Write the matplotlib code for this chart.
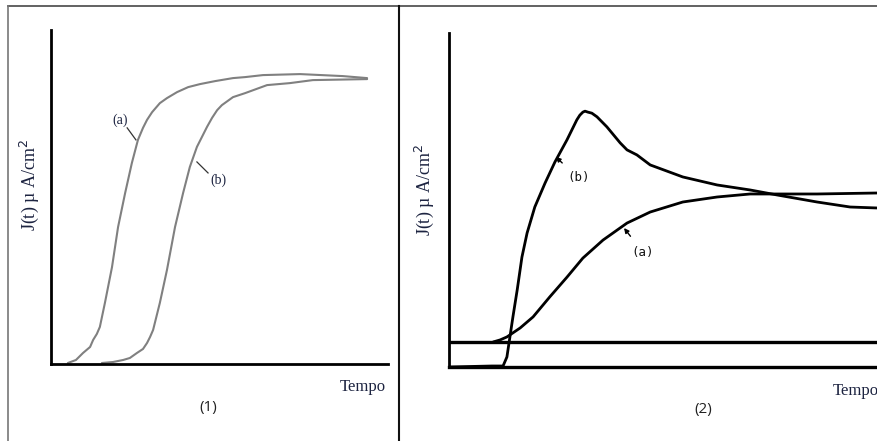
import matplotlib
matplotlib.use('Agg')
import matplotlib.pyplot as plt
from matplotlib.lines import Line2D

W, H = 878, 441

# painel (1): curvas sigmoides, tempo e J em unidades arbitrarias (0-100)
t1_a = [5.0, 7.4, 9.5, 11.6, 12.5, 13.6, 14.5, 16.0, 18.1, 19.9, 22.0, 24.0,
        25.8, 27.3, 28.5, 30.0, 32.3, 34.4, 37.4, 40.7, 44.2, 48.7, 54.0, 57.6,
        62.9, 73.9, 86.6, 93.8]
j1_a = [0.3, 1.2, 3.3, 5.1, 7.2, 9.0, 11.1, 18.3, 29.0, 41.0, 51.2, 60.2,
        67.1, 70.7, 73.1, 75.4, 78.1, 79.6, 81.4, 82.9, 83.8, 84.7, 85.6, 85.9,
        86.5, 86.8, 86.2, 85.6]
t1_b = [15.1, 18.4, 21.4, 23.4, 25.5, 27.3, 28.5, 29.4, 30.3, 32.3, 34.4, 36.8,
        39.2, 41.2, 43.3, 44.8, 46.3, 47.8, 49.3, 50.7, 54.0, 57.6, 64.1, 70.9,
        77.7, 93.8]
j1_b = [0.3, 0.6, 1.2, 1.8, 3.3, 4.5, 6.3, 8.1, 10.2, 18.3, 28.1, 41.0,
        51.2, 59.0, 65.0, 68.0, 71.0, 73.7, 76.0, 77.5, 79.9, 81.1, 83.5, 84.1,
        85.0, 85.3]

# painel (2)
t2_b = [0.0, 10.0, 12.6, 13.5, 14.2, 14.9, 15.9, 17.0, 18.2, 20.0, 22.4, 24.7,
        27.5, 29.8, 30.5, 31.2, 31.7, 32.4, 33.3, 34.5, 36.8, 39.9, 41.5, 43.8,
        46.9, 54.5, 62.5, 70.2, 76.5, 85.8, 93.5, 100.0]
j2_b = [0.0, 0.3, 0.3, 3.0, 9.0, 15.0, 23.1, 32.9, 40.1, 47.9, 55.1, 61.4,
        68.0, 74.0, 75.4, 76.3, 76.6, 76.3, 76.0, 74.9, 71.9, 67.1, 65.0, 63.5,
        60.5, 56.9, 54.5, 53.0, 51.5, 49.4, 47.9, 47.6]
baseline_a = 7.5
t2_a = [10.3, 11.9, 13.5, 16.6, 19.6, 23.5, 27.5, 31.2, 35.9, 41.5, 46.9, 54.5,
        62.5, 70.2, 77.9, 85.8, 100.0]
j2_a = [7.5, 8.1, 9.0, 11.7, 15.0, 21.0, 26.9, 32.6, 38.0, 43.1, 46.4, 49.4,
        50.9, 51.8, 51.8, 51.8, 52.1]

ylabel = 'J(t) µ A/cm$^2$'
navy = '#1c2340'


def px(x, y):
    return x / W, 1 - y / H


fig = plt.figure(figsize=(W / 100, H / 100), dpi=100)
fig.patch.set_facecolor('white')

# moldura
fig.add_artist(Line2D([8 / W, 1], [1 - 6 / H, 1 - 6 / H], color='#555555', lw=1.3))
fig.add_artist(Line2D([8 / W, 8 / W], [0, 1 - 6 / H], color='#777777', lw=1.2))
fig.add_artist(Line2D([399.5 / W, 399.5 / W], [0, 1 - 6 / H], color='#111111', lw=1.5))


def setup(ax):
    for s in ['top', 'right']:
        ax.spines[s].set_visible(False)
    for s in ['left', 'bottom']:
        ax.spines[s].set_linewidth(2.0)
        ax.spines[s].set_color('black')
    ax.set_xticks([])
    ax.set_yticks([])
    ax.set_xlim(0, 100)
    ax.set_ylim(0, 100)
    ax.patch.set_alpha(0)


line_kw = dict(solid_joinstyle='round', solid_capstyle='round')

ax1 = fig.add_axes([51 / W, (H - 364) / H, 337 / W, 334 / H])
setup(ax1)
ax1.plot(t1_a, j1_a, color='#808080', lw=1.5, **line_kw)
ax1.plot(t1_b, j1_b, color='#808080', lw=1.5, **line_kw)
ax1.plot([22.6, 25.2], [70.7, 67.1], color='#333333', lw=0.9)
ax1.plot([43.3, 46.6], [60.5, 57.2], color='#333333', lw=0.9)
ax1.text(20.5, 73.1, '(a)', ha='center', va='center', fontsize=10,
         family='Liberation Serif', color=navy)
ax1.text(49.6, 55.1, '(b)', ha='center', va='center', fontsize=10,
         family='Liberation Serif', color=navy)

ax2 = fig.add_axes([449 / W, (H - 367) / H, (W - 449) / W, 334 / H])
setup(ax2)
ax2.spines['bottom'].set_linewidth(2.4)
ax2.axhline(baseline_a, color='black', lw=2.4)
ax2.plot(t2_a, j2_a, color='black', lw=2.0, **line_kw)
ax2.plot(t2_b, j2_b, color='black', lw=2.0, **line_kw)
ax2.annotate('(b)', xy=(24.9, 62.9), xytext=(30.1, 56.6), ha='center', va='center',
             fontsize=9, family='DejaVu Sans Mono', color='#111111',
             arrowprops=dict(arrowstyle='-|>', color='black', lw=1.0,
                             mutation_scale=7, shrinkA=6, shrinkB=0))
ax2.annotate('(a)', xy=(40.8, 41.6), xytext=(45.2, 34.4), ha='center', va='center',
             fontsize=9, family='DejaVu Sans Mono', color='#111111',
             arrowprops=dict(arrowstyle='-|>', color='black', lw=1.0,
                             mutation_scale=7, shrinkA=6, shrinkB=0))

# textos
for x, y in [(29, 185), (424, 190)]:
    fig.text(*px(x, y), ylabel, rotation=90, ha='center', va='center',
             fontsize=13, family='Liberation Serif', color=navy)
fig.text(*px(340, 387), 'Tempo', ha='left', va='center', fontsize=12,
         family='Liberation Serif', color=navy)
fig.text(*px(833, 391), 'Tempo', ha='left', va='center', fontsize=12,
         family='Liberation Serif', color=navy)
fig.text(*px(208, 408), '(1)', ha='center', va='center', fontsize=11,
         family='Open Sans', color='#222222')
fig.text(*px(703, 409), '(2)', ha='center', va='center', fontsize=11,
         family='Open Sans', color='#222222')

fig.savefig('out.png', dpi=100)
